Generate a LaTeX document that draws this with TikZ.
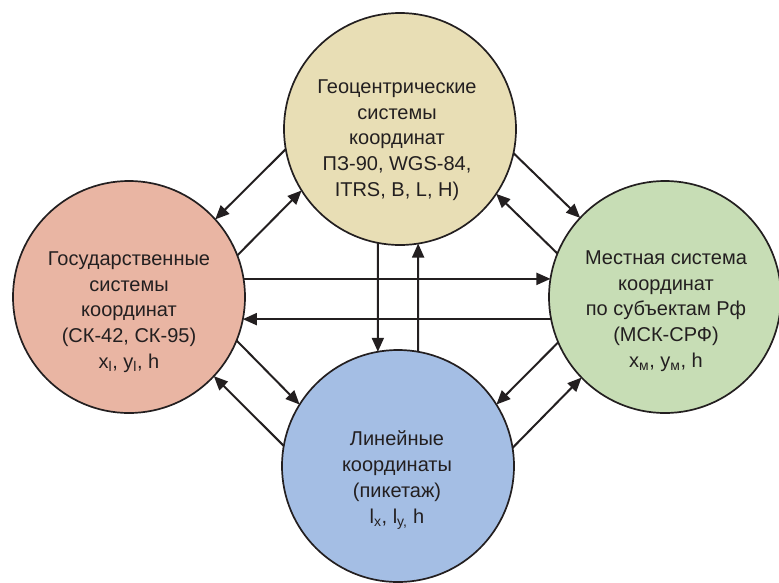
\documentclass[tikz,border=0pt]{standalone}
\usepackage{fontspec}
\setmainfont{Liberation Sans}
\usetikzlibrary{arrows.meta}
\definecolor{cTop}{RGB}{232,222,181}
\definecolor{cLeft}{RGB}{233,181,163}
\definecolor{cRight}{RGB}{199,221,181}
\definecolor{cBottom}{RGB}{164,190,228}
\definecolor{ink}{RGB}{35,31,32}
\begin{document}
\begin{tikzpicture}[x=1pt,y=-1pt,
  circ/.style={circle,draw=ink,line width=1.7pt,minimum size=232pt,inner sep=0pt,outer sep=0pt},
  txt/.style={align=center,font=\fontsize{20}{25.8}\selectfont,text=ink,inner sep=0pt},
  arr/.style={line width=2pt,draw=ink,-{Triangle[length=14pt,width=12pt]}}]
\useasboundingbox (0,0) rectangle (779,582);
\node[circ,fill=cTop] (top) at (400,129) {};
\node[circ,fill=cLeft] (left) at (129,297) {};
\node[circ,fill=cRight] (right) at (665,297) {};
\node[circ,fill=cBottom] (bottom) at (398,466) {};
\node[txt] (ttop) at (397,140) {Геоцентрические\\системы\\координат\\ПЗ-90, WGS-84,\\ITRS, B, L, H)};
\node[txt] (tleft) at (129,312) {Государственные\\системы\\координат\\(СК-42, СК-95)\\x\textsubscript{l}, y\textsubscript{l}, h};
\node[txt] (tright) at (666,311) {Местная система\\координат\\по субъектам Рф\\(МСК-СРФ)\\x\textsubscript{м}, y\textsubscript{м}, h};
\node[txt] (tbottom) at (397,480) {Линейные\\координаты\\(пикетаж)\\l\textsubscript{x}, l\textsubscript{y,} h};
\draw[arr] (top.190) -- (left.42);
\draw[arr] (left.21) -- (top.212);
\draw[arr] (top.348) -- (right.137);
\draw[arr] (right.158) -- (top.326);
\draw[arr] (left.338) -- (bottom.148);
\draw[arr] (bottom.170) -- (left.317);
\draw[arr] (right.203) -- (bottom.32);
\draw[arr] (bottom.9) -- (right.224);
\draw[arr] (top.259) -- (bottom.100);
\draw[arr] (bottom.80) -- (top.279);
\draw[arr] (left.9) -- (right.171);
\draw[arr] (right.191) -- (left.349);
\end{tikzpicture}
\end{document}
